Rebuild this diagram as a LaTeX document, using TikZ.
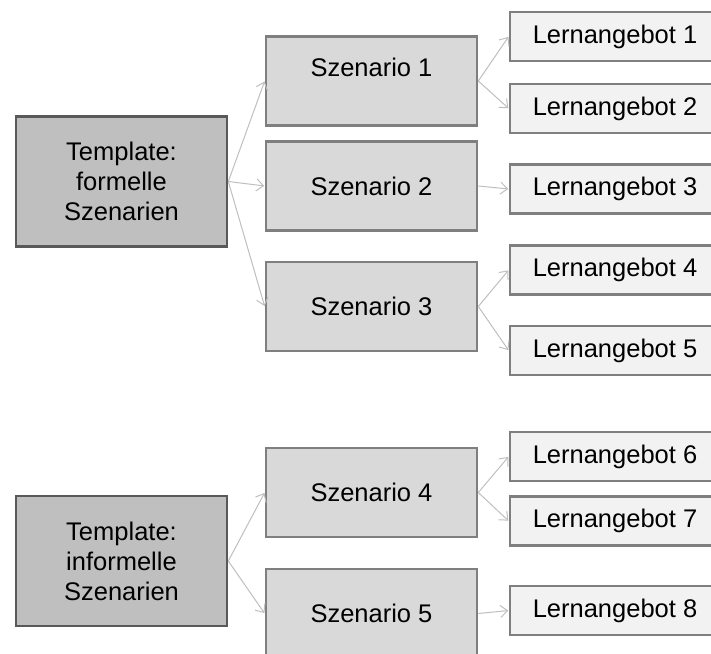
\documentclass[tikz,border=0pt]{standalone}
\usepackage{fontspec}
\setmainfont{Liberation Sans}
\usetikzlibrary{arrows.meta}
\definecolor{tplfill}{HTML}{BFBFBF}
\definecolor{tplline}{HTML}{595959}
\definecolor{szfill}{HTML}{D9D9D9}
\definecolor{lafill}{HTML}{F2F2F2}
\definecolor{boxline}{HTML}{7F7F7F}
\definecolor{arrcol}{HTML}{BFBFBF}
\tikzset{
  tplbox/.style={draw=tplline, fill=tplfill, line width=2.6pt, minimum width=211pt, minimum height=130pt, align=center, font=\fontsize{25.5}{30}\selectfont, inner sep=0pt},
  szbox/.style={draw=boxline, fill=szfill, line width=2.6pt, minimum width=211pt, minimum height=89pt, font=\fontsize{25.5}{30}\selectfont, inner sep=0pt},
  labox/.style={draw=boxline, fill=lafill, line width=2.6pt, minimum width=210pt, minimum height=49pt, font=\fontsize{25.5}{30}\selectfont, inner sep=0pt},
  conn/.style={draw=arrcol, line width=1pt, -{Straight Barb[length=7pt,width=12pt]}, shorten >=0.5pt}
}
\begin{document}
\begin{tikzpicture}[x=1pt,y=-1pt]
\useasboundingbox (0,0) rectangle (711,653);
\clip (0,0) rectangle (711,653);
\fill[white] (0,0) rectangle (711,653);
% templates
\node[tplbox] (t1) at (121.5,181.5) {Template:\\formelle\\Szenarien};
\node[tplbox] (t2) at (121.5,561) {Template:\\informelle\\Szenarien};
% scenarios
\node[szbox, text depth=28pt] (s1) at (371.5,81) {Szenario 1};
\node[szbox] (s2) at (371.5,186) {Szenario 2};
\node[szbox] (s3) at (371.5,306.5) {Szenario 3};
\node[szbox] (s4) at (371.5,492.5) {Szenario 4};
\node[szbox] (s5) at (371.5,613.5) {Szenario 5};
% offers
\node[labox] (l1) at (615,36.5) {Lernangebot 1};
\node[labox] (l2) at (615,108.5) {Lernangebot 2};
\node[labox] (l3) at (615,189) {Lernangebot 3};
\node[labox] (l4) at (615,270) {Lernangebot 4};
\node[labox] (l5) at (615,350.5) {Lernangebot 5};
\node[labox] (l6) at (615,456.5) {Lernangebot 6};
\node[labox] (l7) at (615,521) {Lernangebot 7};
\node[labox] (l8) at (615,610.5) {Lernangebot 8};
% connectors
\draw[conn] (t1.east) -- (s1.west);
\draw[conn] (t1.east) -- (s2.west);
\draw[conn] (t1.east) -- (s3.west);
\draw[conn] (t2.east) -- (s4.west);
\draw[conn] (t2.east) -- (s5.west);
\draw[conn] (s1.east) -- (l1.west);
\draw[conn] (s1.east) -- (l2.west);
\draw[conn] (s2.east) -- (l3.west);
\draw[conn] (s3.east) -- (l4.west);
\draw[conn] (s3.east) -- (l5.west);
\draw[conn] (s4.east) -- (l6.west);
\draw[conn] (s4.east) -- (l7.west);
\draw[conn] (s5.east) -- (l8.west);
\end{tikzpicture}
\end{document}
